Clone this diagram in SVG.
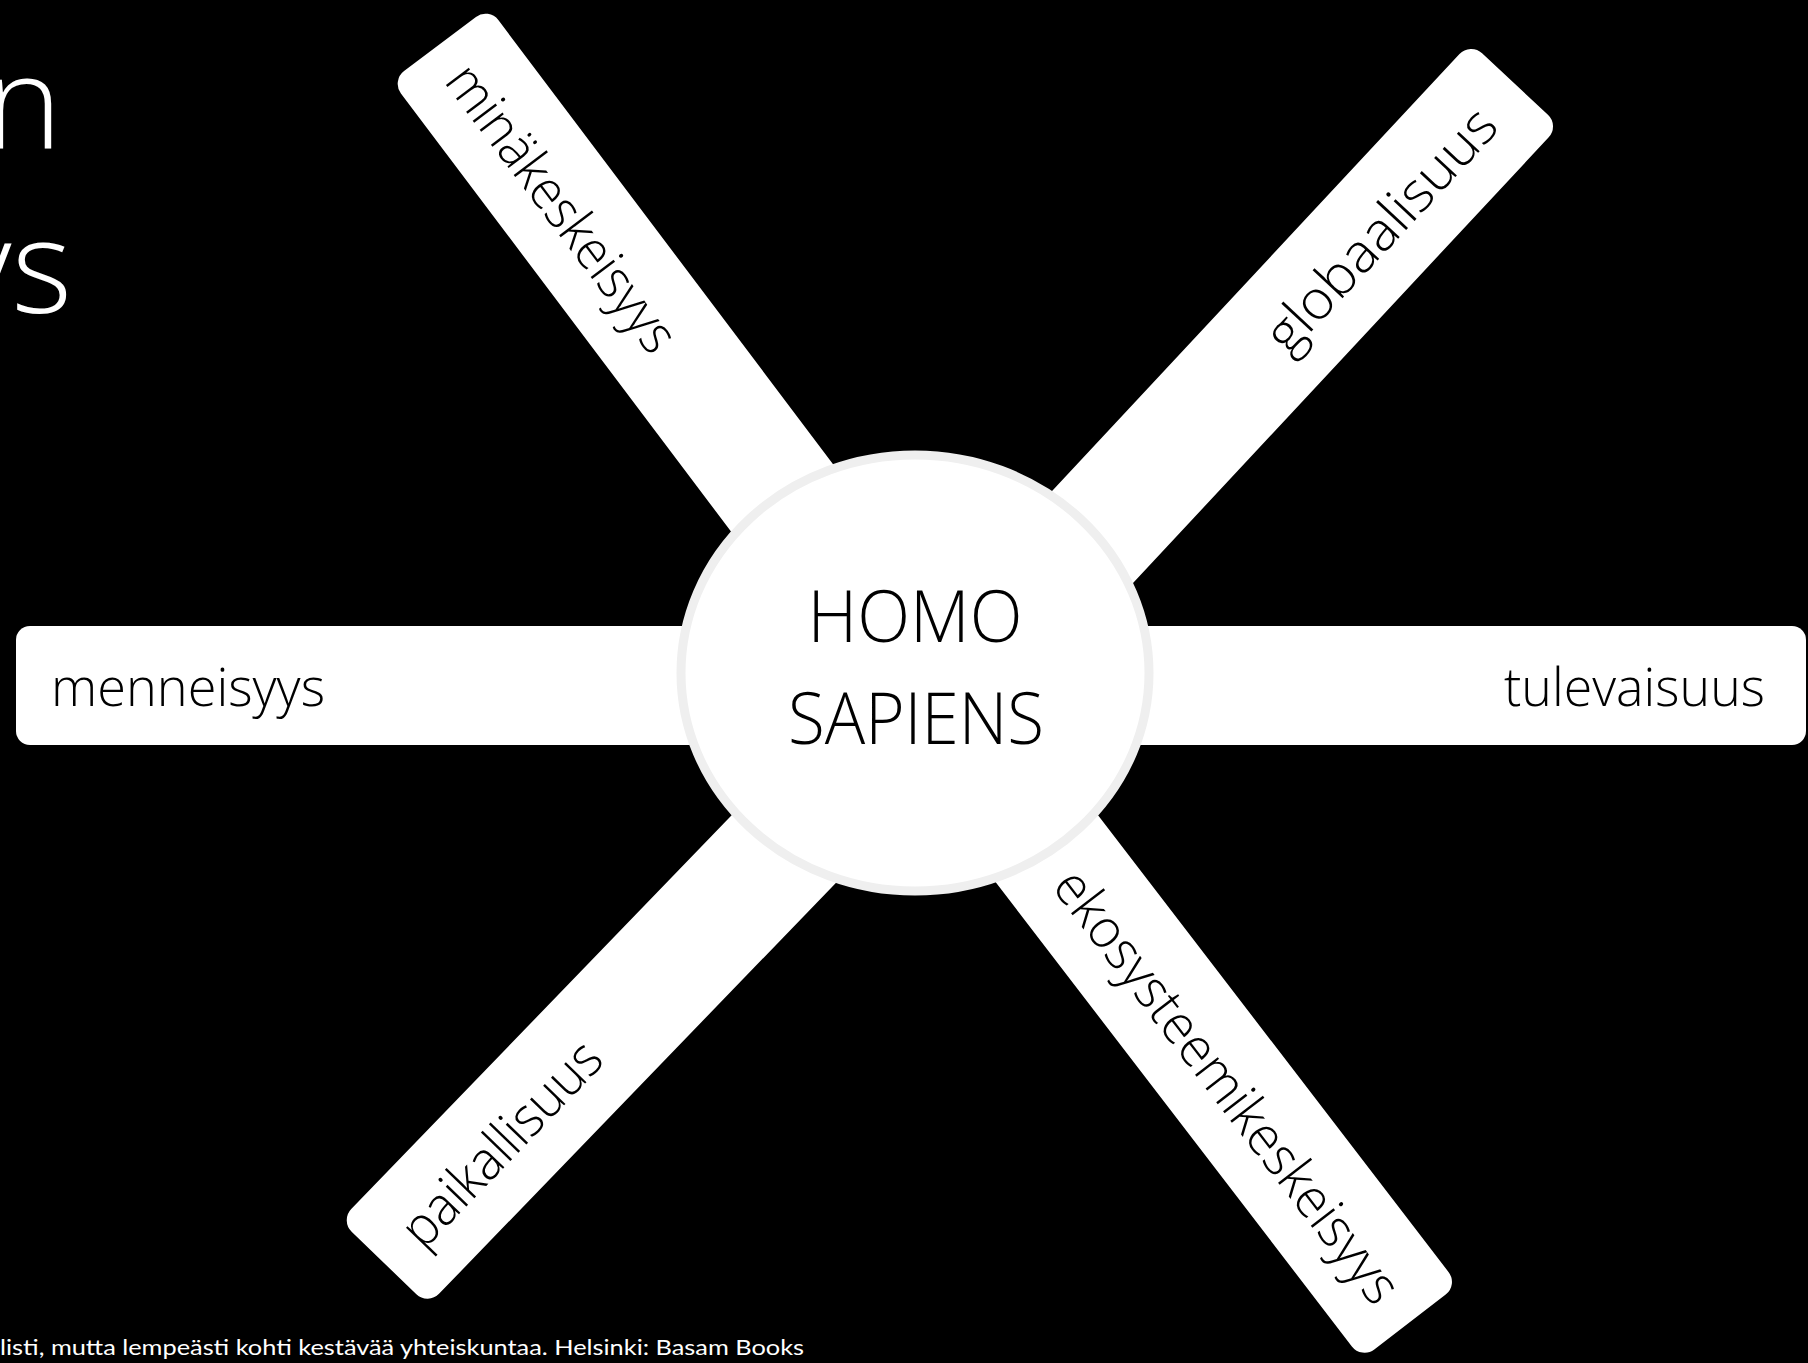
<svg xmlns="http://www.w3.org/2000/svg" width="1808" height="1363" viewBox="0 0 1808 1363">
  <style>
    .bar { fill: #ffffff; }
    .lbl { font-family: "Open Sans", "Lato", "Liberation Sans", sans-serif; font-weight: 300; font-size: 54px; fill: #000000; }
    .center { font-family: "Open Sans", "Lato", "Liberation Sans", sans-serif; font-weight: 300; font-size: 72px; fill: #000000; }
    .title { font-family: "Open Sans", "Lato", "Liberation Sans", sans-serif; font-weight: 300; font-size: 130px; fill: #ffffff; }
    .foot { font-family: "Lato", "Open Sans", "Liberation Sans", sans-serif; font-size: 22px; fill: #ffffff; }
  </style>
  <rect x="0" y="0" width="1808" height="1363" fill="#000000"/>

  <g id="title">
    <text class="title" x="62" y="148" text-anchor="end">n</text>
    <text class="title" x="72" y="313" text-anchor="end">ys</text>
  </g>

  <g id="node-menneisyys">
    <rect class="bar" x="16" y="626" width="800" height="119" rx="14"/>
    <text class="lbl" x="51" y="706" textLength="274" lengthAdjust="spacingAndGlyphs">menneisyys</text>
  </g>

  <g id="node-tulevaisuus">
    <rect class="bar" x="1000" y="626" width="806" height="119" rx="14"/>
    <text class="lbl" x="1765" y="706" text-anchor="end" textLength="261" lengthAdjust="spacingAndGlyphs">tulevaisuus</text>
  </g>

  <g id="node-minakeskeisyys" transform="translate(440,44) rotate(53)">
    <rect class="bar" x="0" y="-61" width="760" height="122" rx="16"/>
    <text class="lbl" x="32" y="20" textLength="345" lengthAdjust="spacingAndGlyphs">minäkeskeisyys</text>
  </g>

  <g id="node-globaalisuus" transform="translate(1515,84) rotate(133)">
    <rect class="bar" x="0" y="-61" width="780" height="122" rx="16"/>
    <g transform="rotate(180)">
      <text class="lbl" x="-42" y="20" text-anchor="end" textLength="312" lengthAdjust="spacingAndGlyphs">globaalisuus</text>
    </g>
  </g>

  <g id="node-paikallisuus" transform="translate(384,1263) rotate(-46)">
    <rect class="bar" x="0" y="-61" width="780" height="122" rx="16"/>
    <text class="lbl" x="36" y="20" textLength="263" lengthAdjust="spacingAndGlyphs">paikallisuus</text>
  </g>

  <g id="node-ekosysteemikeskeisyys" transform="translate(1410,1322) rotate(232.5)">
    <rect class="bar" x="0" y="-61" width="800" height="122" rx="16"/>
    <g transform="rotate(180)">
      <text class="lbl" x="-33" y="20" text-anchor="end" textLength="531" lengthAdjust="spacingAndGlyphs">ekosysteemikeskeisyys</text>
    </g>
  </g>

  <g id="connectors"></g>

  <g id="node-homo-sapiens">
    <ellipse cx="915" cy="673" rx="234" ry="218" fill="#ffffff" stroke="#efefef" stroke-width="9"/>
    <text class="center" x="915" y="642" text-anchor="middle" textLength="215" lengthAdjust="spacingAndGlyphs">HOMO</text>
    <text class="center" x="916" y="744" text-anchor="middle" textLength="256" lengthAdjust="spacingAndGlyphs">SAPIENS</text>
  </g>

  <g id="footer">
    <text class="foot" x="804" y="1355" text-anchor="end" textLength="804" lengthAdjust="spacingAndGlyphs">listi, mutta lempeästi kohti kestävää yhteiskuntaa. Helsinki: Basam Books</text>
  </g>
</svg>
